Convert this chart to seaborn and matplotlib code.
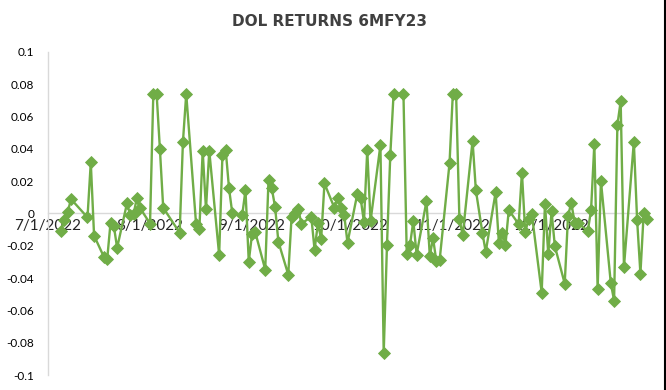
import matplotlib
matplotlib.use("Agg")
import matplotlib.pyplot as plt
from matplotlib.lines import Line2D
import pandas as pd
import seaborn as sns

# ---------------- data ----------------
dates = [
    "7/5/2022", "7/6/2022", "7/7/2022", "7/8/2022",
    "7/13/2022", "7/14/2022", "7/15/2022",
    "7/18/2022", "7/19/2022", "7/20/2022", "7/21/2022", "7/22/2022",
    "7/25/2022", "7/26/2022", "7/27/2022", "7/28/2022", "7/29/2022",
    "8/1/2022", "8/2/2022", "8/3/2022", "8/4/2022", "8/5/2022",
    "8/10/2022", "8/11/2022", "8/12/2022",
    "8/15/2022", "8/16/2022", "8/17/2022", "8/18/2022", "8/19/2022",
    "8/22/2022", "8/23/2022", "8/24/2022", "8/25/2022", "8/26/2022",
    "8/29/2022", "8/30/2022", "8/31/2022", "9/1/2022", "9/2/2022",
    "9/5/2022", "9/6/2022", "9/7/2022", "9/8/2022", "9/9/2022",
    "9/12/2022", "9/13/2022", "9/14/2022", "9/15/2022", "9/16/2022",
    "9/19/2022", "9/20/2022", "9/21/2022", "9/22/2022", "9/23/2022",
    "9/26/2022", "9/27/2022", "9/28/2022", "9/29/2022", "9/30/2022",
    "10/3/2022", "10/4/2022", "10/5/2022", "10/6/2022", "10/7/2022",
    "10/10/2022", "10/11/2022", "10/12/2022", "10/13/2022", "10/14/2022",
    "10/17/2022", "10/18/2022", "10/19/2022", "10/20/2022", "10/21/2022",
    "10/24/2022", "10/25/2022", "10/26/2022", "10/27/2022", "10/28/2022",
    "10/31/2022", "11/1/2022", "11/2/2022", "11/3/2022", "11/4/2022",
    "11/7/2022", "11/8/2022", "11/10/2022", "11/11/2022",
    "11/14/2022", "11/15/2022", "11/16/2022", "11/17/2022", "11/18/2022",
    "11/21/2022", "11/22/2022", "11/23/2022", "11/24/2022", "11/25/2022",
    "11/28/2022", "11/29/2022", "11/30/2022", "12/1/2022", "12/2/2022",
    "12/5/2022", "12/6/2022", "12/7/2022", "12/8/2022", "12/9/2022",
    "12/12/2022", "12/13/2022", "12/14/2022", "12/15/2022", "12/16/2022",
    "12/19/2022", "12/20/2022", "12/21/2022", "12/22/2022", "12/23/2022",
    "12/26/2022", "12/27/2022", "12/28/2022", "12/29/2022", "12/30/2022",
]

returns = [
    -0.0110, -0.0040, 0.0010, 0.0088,
    -0.0025, 0.0315, -0.0138,
    -0.0270, -0.0280, -0.0058, -0.0078, -0.0213,
    0.0062, -0.0011, -0.0005, 0.0096, 0.0032,
    -0.0063, 0.0739, 0.0739, 0.0398, 0.0035,
    -0.0120, 0.0443, 0.0739,
    -0.0068, -0.0095, 0.0387, 0.0025, 0.0387,
    -0.0257, 0.0358, 0.0391, 0.0155, 0.0000,
    -0.0012, 0.0143, -0.0298, -0.0127, -0.0118,
    -0.0348, 0.0206, 0.0154, 0.0039, -0.0176,
    -0.0379, -0.0025, 0.0004, 0.0030, -0.0064,
    -0.0021, -0.0226, -0.0062, -0.0158, 0.0185,
    0.0035, 0.0097, 0.0035, -0.0010, -0.0182,
    0.0122, 0.0093, -0.0054, 0.0391, -0.0048,
    0.0422, -0.0865, -0.0193, 0.0360, 0.0739,
    0.0739, -0.0251, -0.0193, -0.0048, -0.0255,
    0.0076, -0.0261, -0.0155, -0.0296, -0.0288,
    0.0310, 0.0739, 0.0739, -0.0034, -0.0136,
    0.0449, 0.0143, -0.0122, -0.0238,
    0.0130, -0.0182, -0.0120, -0.0193, 0.0020,
    -0.0066, 0.0252, -0.0117, -0.0035, -0.0004,
    -0.0490, 0.0060, -0.0253, 0.0012, -0.0203,
    -0.0435, -0.0017, 0.0066, -0.0058, -0.0058,
    -0.0110, 0.0019, 0.0429, -0.0468, 0.0200,
    -0.0431, -0.0540, 0.0547, 0.0693, -0.0332,
    0.0443, -0.0043, -0.0373, 0.0004, -0.0037,
]

x_tick_dates = ["7/1/2022", "8/1/2022", "9/1/2022", "10/1/2022", "11/1/2022", "12/1/2022"]
x_tick_labels = ["7/1/2022", "8/1/2022", "9/1/2022", "10/1/2022", "11/1/2022", "12/1/2022"]
y_ticks = [-0.1, -0.08, -0.06, -0.04, -0.02, 0, 0.02, 0.04, 0.06, 0.08, 0.1]
y_tick_labels = ["-0.1", "-0.08", "-0.06", "-0.04", "-0.02", "0", "0.02", "0.04", "0.06", "0.08", "0.1"]
title = "DOL RETURNS 6MFY23"
x_range = ["7/1/2022", "12/30/2022"]

df = pd.DataFrame({"date": pd.to_datetime(dates, format="%m/%d/%Y"), "ret": returns})

# ---------------- style ----------------
sns.set_theme(style="white")
plt.rcParams["font.family"] = ["Lato", "DejaVu Sans"]

GREEN = "#70AD47"
AXIS_GRAY = "#D9D9D9"

fig = plt.figure(figsize=(6.66, 3.90), dpi=100)
fig.patch.set_facecolor("white")
ax = fig.add_axes([48 / 666, 15 / 390, (647 - 48) / 666, (375 - 51.7) / 390])
ax.set_facecolor("white")

sns.lineplot(data=df, x="date", y="ret", ax=ax, color=GREEN, linewidth=1.7,
             marker="D", markersize=6.0, markeredgecolor=GREEN,
             markeredgewidth=0.6, markerfacecolor=GREEN)
for ln in ax.lines:
    ln.set_clip_on(False)

xr = pd.to_datetime(x_range, format="%m/%d/%Y")
ax.set_xlim(xr[0], xr[1])
ax.set_ylim(-0.1, 0.1)

ax.set_yticks(y_ticks)
ax.set_yticklabels(y_tick_labels, fontsize=8.5, color="#000000")
ax.tick_params(axis="y", length=0, pad=10)

xt = pd.to_datetime(x_tick_dates, format="%m/%d/%Y")
ax.set_xticks(xt)
ax.set_xticklabels(x_tick_labels, fontsize=9, color="#595959")
ax.tick_params(axis="x", length=3, width=0.8, color=AXIS_GRAY, pad=1, direction="out")

for s in ["top", "right"]:
    ax.spines[s].set_visible(False)
ax.spines["bottom"].set_position(("data", 0))
ax.spines["bottom"].set_color(AXIS_GRAY)
ax.spines["bottom"].set_linewidth(1.0)
ax.spines["left"].set_color(AXIS_GRAY)
ax.spines["left"].set_linewidth(1.0)
ax.spines["bottom"].set_zorder(0.5)
ax.grid(False)
ax.set_xlabel("")
ax.set_ylabel("")

fig.text(330 / 666, 1 - 22 / 390, title, ha="center", va="center",
         fontsize=11, fontweight="bold", color="#404040",
         family=["DejaVu Sans"])

# right border as in the screenshot
fig.add_artist(Line2D([664.5 / 666, 664.5 / 666], [0, 1], transform=fig.transFigure,
                      color="black", linewidth=1.5))

fig.savefig("out.png", dpi=100, facecolor="white")
